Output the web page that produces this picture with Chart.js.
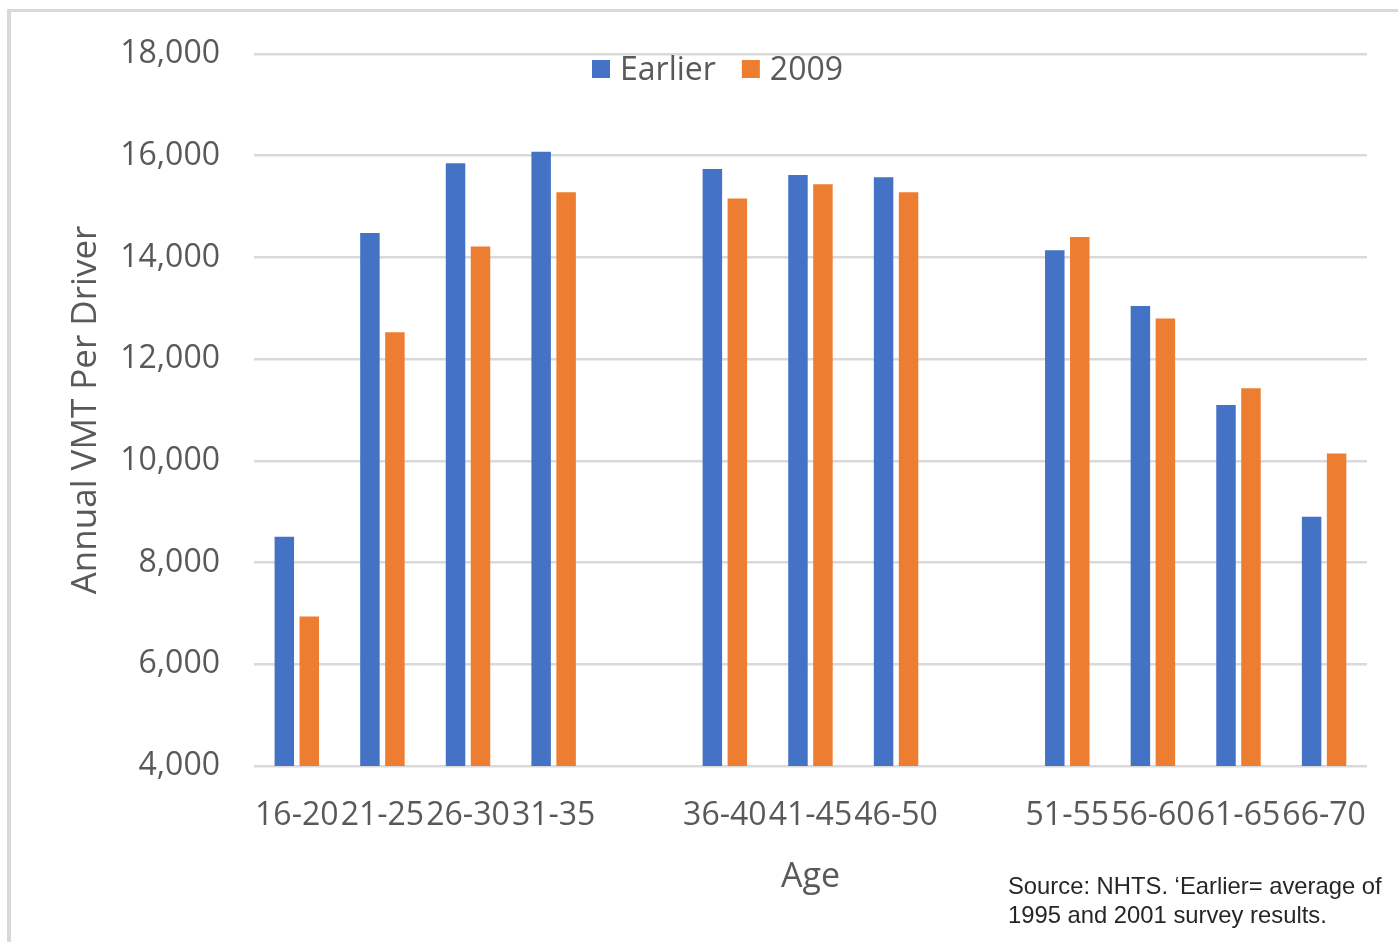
<!DOCTYPE html>
<html>
<head>
<meta charset="utf-8">
<title>Annual VMT Per Driver by Age</title>
<script src="https://cdn.jsdelivr.net/npm/chart.js@4"></script>
<style>
  html, body { margin: 0; padding: 0; background: #ffffff; }
  #wrap { position: relative; width: 1398px; height: 942px; overflow: hidden; }
  #frame {
    position: absolute; left: 7px; top: 9px; width: 1500px; height: 1000px;
    border-left: 4px solid #d9d9d9; border-top: 3px solid #d9d9d9;
    box-sizing: border-box;
  }
  #chart { position: absolute; left: 0; top: 0; }
  #note {
    position: absolute; left: 1008px; top: 871px;
    font-family: "Liberation Sans", Arial, sans-serif; font-size: 23.8px;
    line-height: 29px; color: #262626; white-space: nowrap;
  }
</style>
</head>
<body>
<div id="wrap">
  <div id="frame"></div>
  <canvas id="chart" width="1398" height="942"></canvas>
  <div id="note">Source: NHTS. ‘Earlier= average of<br>1995 and 2001 survey results.</div>
</div>
<script>
// Age bands; the blank entries leave the gaps between the three age groups
const ageBands = ['16-20', '21-25', '26-30', '31-35', '', '36-40', '41-45', '46-50', '', '51-55', '56-60', '61-65', '66-70'];
const seriesNames = ['Earlier', '2009'];
const earlierVMT = [8510, 14480, 15850, 16080, null, 15740, 15620, 15575, null, 14140, 13045, 11100, 8900];
const vmt2009 = [6940, 12530, 14215, 15280, null, 15160, 15440, 15280, null, 14400, 12800, 11430, 10145];
const yTicks = [4000, 6000, 8000, 10000, 12000, 14000, 16000, 18000];

const FONT = '"Open Sans", "Noto Sans", sans-serif';
const GREY_TEXT = '#595959';
const GRID = '#d9d9d9';

// Single-row legend drawn inside the plot area, near its top edge
const insetLegend = {
  id: 'insetLegend',
  afterDraw(chart) {
    const ctx = chart.ctx;
    const box = 18, gapText = 10, gapItem = 26;
    let x = 592;
    const yMid = 69;
    ctx.save();
    ctx.font = '32px ' + FONT;
    ctx.textBaseline = 'middle';
    ctx.textAlign = 'left';
    chart.data.datasets.forEach(ds => {
      ctx.fillStyle = ds.backgroundColor;
      ctx.fillRect(x, yMid - box / 2, box, box);
      x += box + gapText;
      ctx.fillStyle = GREY_TEXT;
      ctx.fillText(ds.label, x, yMid + 2);
      x += ctx.measureText(ds.label).width + gapItem;
    });
    ctx.restore();
  }
};

new Chart(document.getElementById('chart'), {
  type: 'bar',
  data: {
    labels: ageBands,
    datasets: [
      { label: seriesNames[0], data: earlierVMT, backgroundColor: '#4472c4' },
      { label: seriesNames[1], data: vmt2009, backgroundColor: '#ed7d31' }
    ]
  },
  options: {
    responsive: false,
    animation: false,
    devicePixelRatio: 1,
    layout: { padding: { top: 54, right: 30, bottom: 0, left: 0 } },
    datasets: {
      bar: { categoryPercentage: 0.5835, barPercentage: 0.78, borderWidth: 0 }
    },
    plugins: {
      legend: { display: false },
      tooltip: { enabled: false }
    },
    scales: {
      x: {
        grid: { display: false, drawTicks: false },
        border: { display: false },
        ticks: {
          font: { family: FONT, size: 32 },
          color: GREY_TEXT,
          autoSkip: false,
          maxRotation: 0,
          minRotation: 0,
          padding: 31
        },
        title: {
          display: true,
          text: 'Age',
          font: { family: FONT, size: 34 },
          color: GREY_TEXT,
          padding: { top: 0, bottom: 44 }
        },
        afterFit(scale) { scale.height = 176; }
      },
      y: {
        min: yTicks[0],
        max: yTicks[yTicks.length - 1],
        afterBuildTicks(scale) { scale.ticks = yTicks.map(v => ({ value: v })); },
        grid: { color: GRID, lineWidth: 2.5, drawTicks: false },
        border: { display: false },
        ticks: {
          font: { family: FONT, size: 32 },
          color: GREY_TEXT,
          padding: 34,
          callback: v => v.toLocaleString('en-US')
        },
        title: {
          display: true,
          text: 'Annual VMT Per Driver',
          font: { family: FONT, size: 35 },
          color: GREY_TEXT,
          padding: { top: 65, bottom: 0 }
        },
        afterFit(scale) { scale.width = 254; }
      }
    }
  },
  plugins: [insetLegend]
});
</script>
</body>
</html>
